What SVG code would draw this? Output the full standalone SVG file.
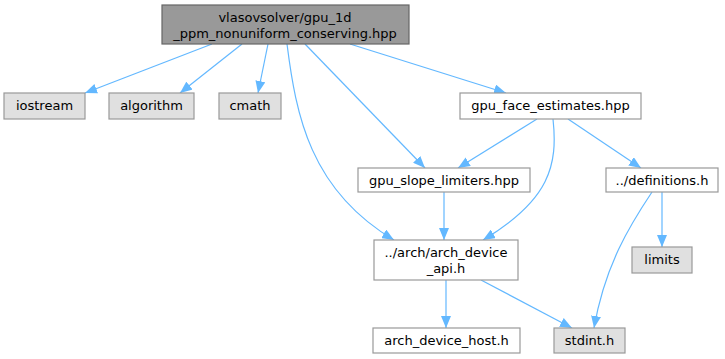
<svg xmlns="http://www.w3.org/2000/svg" width="725" height="359" viewBox="0 0 725 359">
<style>
.n rect{fill:#fff;stroke:#999;stroke-width:1.2}
.n.sys rect{fill:#e0e0e0;stroke:#999}
.n.root rect{fill:#999;stroke:#666}
text{font-family:"DejaVu Sans",sans-serif;font-size:13px;fill:#000;text-anchor:middle}
.e path{fill:none;stroke:#63b8ff;stroke-width:1.2;marker-end:url(#ah)}
</style>
<defs>
<marker id="ah" markerUnits="userSpaceOnUse" markerWidth="12" markerHeight="10" viewBox="0 0 12 10" refX="12" refY="5" orient="auto">
<path d="M0,0 L12,5 L0,10 Z" fill="#63b8ff"/>
</marker>
</defs>
<rect width="725" height="359" fill="#fff"/>
<g id="edges" class="e">
<path d="M212,44 L85,93"/>
<path d="M242,44 L180,93"/>
<path d="M268,44 L258,93"/>
<path d="M350,44 L506,93"/>
<path d="M305,44 L425,168"/>
<path d="M287,44 C296,115 310,190 394,240"/>
<path d="M537,119 L458,168"/>
<path d="M553,119 C558,165 550,200 483,240"/>
<path d="M568,119 L641,168"/>
<path d="M444,192 L444,240"/>
<path d="M662,192 L662,247"/>
<path d="M652,192 C630,225 605,265 594,328"/>
<path d="M446,280 L446,328"/>
<path d="M481,280 L572,328"/>
</g>
<g id="root" class="n root"><rect x="162" y="5" width="247" height="39"/><text x="285" y="22">vlasovsolver/gpu_1d</text><text x="285" y="38">_ppm_nonuniform_conserving.hpp</text></g>
<g id="iostream" class="n sys"><rect x="4" y="93" width="81" height="26"/><text x="44.5" y="110">iostream</text></g>
<g id="algorithm" class="n sys"><rect x="109" y="93" width="85" height="26"/><text x="151.5" y="110">algorithm</text></g>
<g id="cmath" class="n sys"><rect x="219" y="93" width="62" height="26"/><text x="250" y="110">cmath</text></g>
<g id="face" class="n"><rect x="460" y="93" width="181" height="26"/><text x="550.5" y="110">gpu_face_estimates.hpp</text></g>
<g id="slope" class="n"><rect x="358" y="168" width="172" height="24"/><text x="444" y="185">gpu_slope_limiters.hpp</text></g>
<g id="defs" class="n"><rect x="606" y="168" width="112" height="24"/><text x="662" y="185">../definitions.h</text></g>
<g id="limits" class="n sys"><rect x="632" y="247" width="60" height="26"/><text x="662" y="264">limits</text></g>
<g id="api" class="n"><rect x="374" y="240" width="144" height="40"/><text x="446" y="257">../arch/arch_device</text><text x="446" y="273">_api.h</text></g>
<g id="host" class="n"><rect x="373" y="328" width="147" height="25"/><text x="446.5" y="345">arch_device_host.h</text></g>
<g id="stdint" class="n sys"><rect x="554" y="328" width="71" height="25"/><text x="589.5" y="345">stdint.h</text></g>
</svg>
